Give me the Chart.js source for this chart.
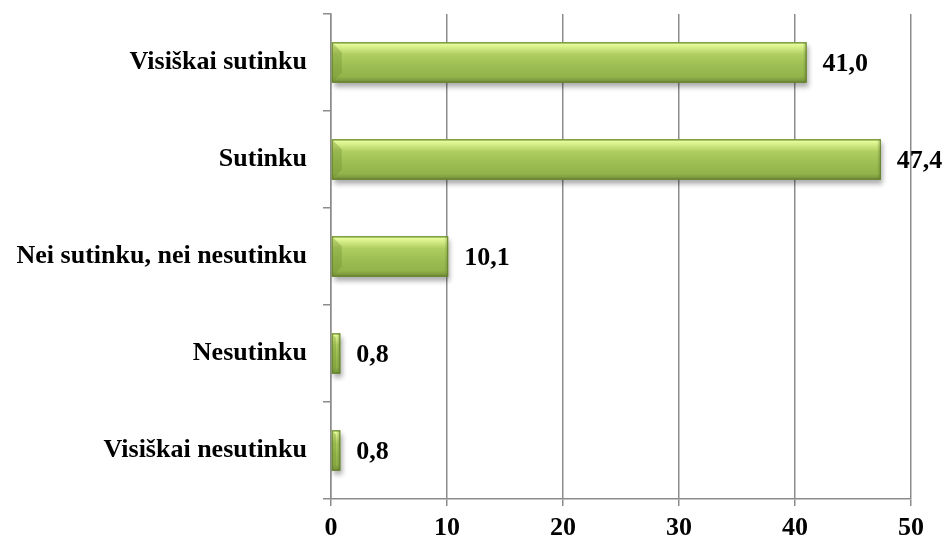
<!DOCTYPE html>
<html>
<head>
<meta charset="utf-8">
<script src="https://cdn.jsdelivr.net/npm/chart.js@4.4.1/dist/chart.umd.min.js"></script>
<style>
  html, body { margin: 0; padding: 0; background: #ffffff; }
  #wrap { width: 945px; height: 539px; position: relative; }
</style>
</head>
<body>
<div id="wrap"><canvas id="c" width="945" height="539"></canvas></div>
<script>
// Survey answers and shares (%)
const categories = ["Visiškai sutinku", "Sutinku", "Nei sutinku, nei nesutinku", "Nesutinku", "Visiškai nesutinku"];
const shares = [41.0, 47.4, 10.1, 0.8, 0.8];
const xTicks = [0, 10, 20, 30, 40, 50];

const FONT = "'Liberation Serif', 'Times New Roman', serif";
const FONT_SIZE = 26;
const fmt = v => v.toFixed(1).replace('.', ',');

// Drop shadow under the bars
const barShadow = {
  id: 'barShadow',
  beforeDatasetDraw(chart) {
    const ctx = chart.ctx;
    ctx.save();
    ctx.shadowColor = 'rgba(0,0,0,0.33)';
    ctx.shadowBlur = 5;
    ctx.shadowOffsetX = 2;
    ctx.shadowOffsetY = 4;
  },
  afterDatasetDraw(chart) {
    chart.ctx.restore();
  }
};

// Bevelled green finish on each bar plus its value label
const barFinish = {
  id: 'barFinish',
  afterDatasetsDraw(chart) {
    const ctx = chart.ctx;
    const meta = chart.getDatasetMeta(0);
    meta.data.forEach((bar, i) => {
      const x0 = bar.base, x1 = bar.x;
      const h = bar.height, y0 = bar.y - h / 2, y1 = bar.y + h / 2;
      const w = x1 - x0;
      ctx.save();
      const g = ctx.createLinearGradient(0, y0, 0, y1);
      g.addColorStop(0, '#a9c95c');
      g.addColorStop(0.05, '#e6fb9a');
      g.addColorStop(0.14, '#d2eb84');
      g.addColorStop(0.3, '#afce61');
      g.addColorStop(0.6, '#9cbd52');
      g.addColorStop(0.85, '#93b34b');
      g.addColorStop(0.94, '#7f9d3f');
      g.addColorStop(1, '#687f33');
      ctx.fillStyle = g;
      ctx.fillRect(x0, y0, w, h);
      // left bevel
      const b = Math.min(10, w / 2);
      ctx.beginPath();
      ctx.moveTo(x0, y0); ctx.lineTo(x0 + b, y0 + b); ctx.lineTo(x0 + b, y1 - b); ctx.lineTo(x0, y1);
      ctx.closePath();
      ctx.fillStyle = 'rgba(110,140,45,0.35)';
      ctx.fill();
      // right edge shading
      const rg = ctx.createLinearGradient(x1 - 4, 0, x1, 0);
      rg.addColorStop(0, 'rgba(90,115,40,0)');
      rg.addColorStop(1, 'rgba(90,115,40,0.45)');
      ctx.fillStyle = rg;
      ctx.fillRect(Math.max(x0, x1 - 4), y0, Math.min(4, w), h);
      ctx.strokeStyle = 'rgba(100,128,48,0.9)';
      ctx.lineWidth = 1;
      ctx.strokeRect(x0 + 0.5, y0 + 0.5, w - 1, h - 1);
      ctx.restore();

      ctx.save();
      ctx.font = 'bold ' + FONT_SIZE + 'px ' + FONT;
      ctx.fillStyle = '#000000';
      ctx.textAlign = 'left';
      ctx.textBaseline = 'middle';
      ctx.fillText(fmt(shares[i]), x1 + 16, bar.y + 2);
      ctx.restore();
    });
  }
};

new Chart(document.getElementById('c'), {
  type: 'bar',
  data: {
    labels: categories,
    datasets: [{
      data: shares,
      backgroundColor: '#9bbb59',
      borderWidth: 0,
      barPercentage: 0.83,
      categoryPercentage: 0.5
    }]
  },
  options: {
    indexAxis: 'y',
    responsive: false,
    animation: false,
    devicePixelRatio: 1,
    layout: { padding: { top: 14, right: 34, bottom: 0, left: 0 } },
    plugins: { legend: { display: false }, tooltip: { enabled: false } },
    scales: {
      x: {
        min: 0, max: 50,
        afterBuildTicks(axis) { axis.ticks = xTicks.map(v => ({ value: v })); },
        grid: { color: '#8c8c8c', lineWidth: 1.5, tickLength: 7, drawTicks: true },
        border: { color: '#8c8c8c', width: 1.5 },
        ticks: { color: '#000', maxRotation: 0, font: { family: FONT, size: FONT_SIZE, weight: 'bold' }, padding: 7 },
        afterFit(axis) { axis.height = 40; }
      },
      y: {
        grid: { display: true, drawOnChartArea: false, offset: true, color: '#8c8c8c', lineWidth: 1.5, tickLength: 8 },
        border: { color: '#8c8c8c', width: 1.5 },
        ticks: { color: '#000', autoSkip: false, font: { family: FONT, size: FONT_SIZE, weight: 'bold' }, padding: 16 },
        afterFit(axis) {
          axis.width = 331;
          axis.paddingTop = 0;
          axis.paddingBottom = 0;
        }
      }
    }
  },
  plugins: [barShadow, barFinish]
});
</script>
</body>
</html>
